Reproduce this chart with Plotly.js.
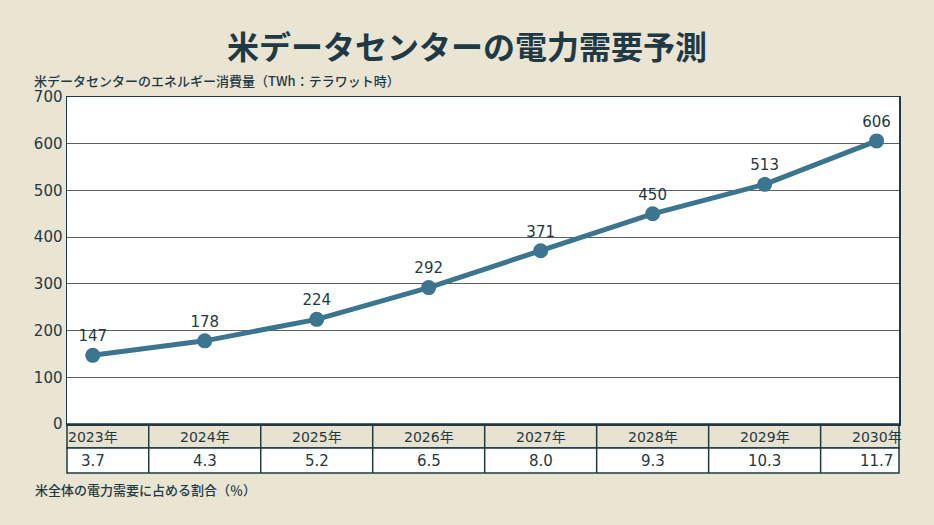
<!DOCTYPE html>
<html><head><meta charset="utf-8">
<script src="https://cdn.plot.ly/plotly-3.0.1.min.js"></script>
<style>html,body{margin:0;padding:0;background:#EAE4D3;}#c{width:934px;height:525px;}</style>
</head><body><div id="c"></div>
<script>
const years = ["2023年","2024年","2025年","2026年","2027年","2028年","2029年","2030年"];
const energyTWh = [147, 178, 224, 292, 371, 450, 513, 606];
const sharePct = ["3.7","4.3","5.2","6.5","8.0","9.3","10.3","11.7"];
const yTicks = [0,100,200,300,400,500,600,700];

const W=934,H=525, mL=67, mR=35, mT=97, mB=101;
const plotH = H-mT-mB, plotW = W-mL-mR;
const py = p => (H-mB-p)/plotH; // pixel y -> paper y
const px = p => (p-mL)/plotW;   // pixel x -> paper x
const dark = '#1f3a45';
const font = "'Noto Sans CJK JP', 'Noto Sans', sans-serif";
const numFont = "'DejaVu Sans', 'Noto Sans CJK JP', sans-serif";
const idx = years.map((_,i)=>i);
const xMin=-0.23, xMax=7.2;

const shapes=[], annotations=[];
shapes.push({type:'rect',xref:'paper',yref:'paper',x0:0,x1:1,y0:py(448),y1:py(424),fillcolor:'#E8E2D0',line:{color:dark,width:1.5},layer:'below'});
shapes.push({type:'rect',xref:'paper',yref:'paper',x0:0,x1:1,y0:py(473),y1:py(448),fillcolor:'#ffffff',line:{color:dark,width:1.5},layer:'below'});
for(let i=0;i<years.length-1;i++){
  shapes.push({type:'line',xref:'x',yref:'paper',x0:i+0.5,x1:i+0.5,y0:py(473),y1:py(424),line:{color:dark,width:1.5}});
}
years.forEach((y,i)=>{
  annotations.push({x:i,xref:'x',y:py(437),yref:'paper',text:y,showarrow:false,font:{family:numFont,size:14,color:dark},xanchor:'center',yanchor:'middle'});
  annotations.push({x:i,xref:'x',y:py(461),yref:'paper',text:sharePct[i],showarrow:false,font:{family:numFont,size:15,color:dark},xanchor:'center',yanchor:'middle'});
});
annotations.push({x:px(32),xref:'paper',y:py(81),yref:'paper',text:'米データセンターのエネルギー消費量（TWh：テラワット時）',showarrow:false,xanchor:'left',yanchor:'middle',font:{family:font,size:13,color:dark,weight:500}});
annotations.push({x:px(33),xref:'paper',y:py(489),yref:'paper',text:'米全体の電力需要に占める割合（％）',showarrow:false,xanchor:'left',yanchor:'middle',font:{family:font,size:13,color:dark,weight:500}});

const trace={x:idx,y:energyTWh,type:'scatter',mode:'lines+markers+text',
  text:energyTWh.map(String),textposition:'top center',
  textfont:{family:numFont,size:15,color:dark},
  line:{color:'#3C7590',width:5},marker:{color:'#3C7590',size:15},
  cliponaxis:false,hoverinfo:'skip'};

const layout={width:W,height:H,margin:{l:mL,r:mR,t:mT,b:mB},
  paper_bgcolor:'#EAE4D3',plot_bgcolor:'#ffffff',showlegend:false,
  title:{text:'<b>米データセンターの電力需要予測</b>',x:0.5,xanchor:'center',y:1-48/H,yanchor:'middle',font:{family:font,size:32,color:dark}},
  xaxis:{range:[xMin,xMax],showticklabels:false,showgrid:false,zeroline:false,showline:true,linecolor:dark,linewidth:1.5,mirror:true,fixedrange:true},
  yaxis:{range:[0,700],tickvals:yTicks,ticktext:yTicks.map(String),showgrid:true,gridcolor:'#5b6266',gridwidth:1,zeroline:false,showline:true,linecolor:dark,linewidth:1.5,mirror:true,ticks:'',ticklen:0,tickfont:{family:numFont,size:15,color:dark},fixedrange:true},
  shapes:shapes,annotations:annotations};
Plotly.newPlot('c',[trace],layout,{staticPlot:true,displayModeBar:false});
</script></body></html>
